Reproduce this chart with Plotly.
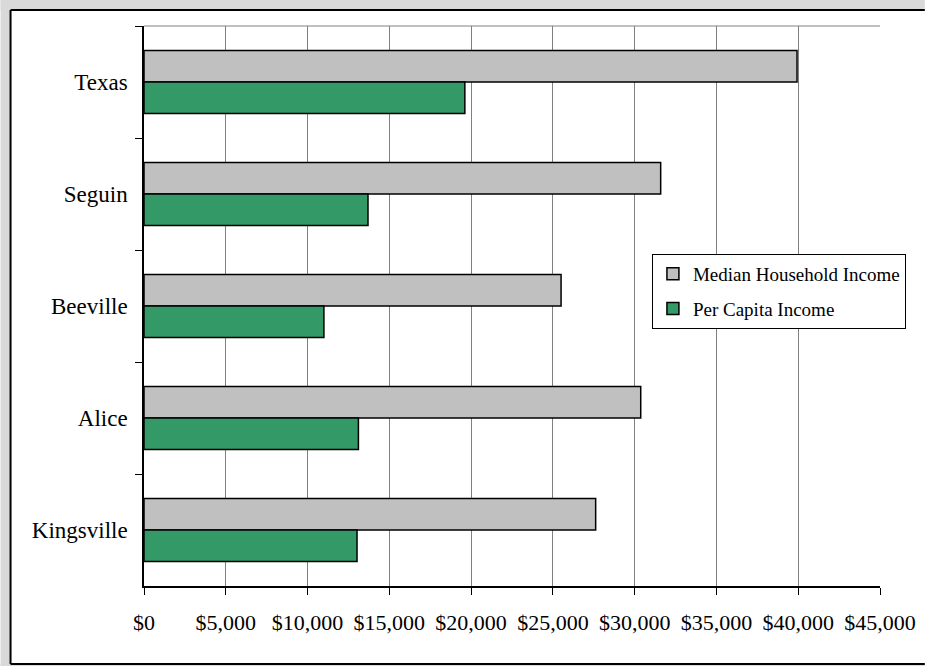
import plotly.graph_objects as go

categories = ["Texas", "Seguin", "Beeville", "Alice", "Kingsville"]
median_household_income = [39927, 31590, 25500, 30370, 27615]
per_capita_income = [19617, 13695, 11000, 13110, 13025]
series_names = ["Median Household Income", "Per Capita Income"]
tick_values = [0, 5000, 10000, 15000, 20000, 25000, 30000, 35000, 40000, 45000]
tick_labels = ["$0", "$5,000", "$10,000", "$15,000", "$20,000", "$25,000",
               "$30,000", "$35,000", "$40,000", "$45,000"]

FONT = "Liberation Serif"

fig = go.Figure()
fig.add_trace(go.Bar(
    y=categories, x=median_household_income, orientation="h",
    name=series_names[0], legendgroup="a",
    marker=dict(color="#C0C0C0", line=dict(color="#000000", width=1.5)),
))
fig.add_trace(go.Bar(
    y=categories, x=per_capita_income, orientation="h",
    name=series_names[1], legendgroup="b",
    marker=dict(color="#339966", line=dict(color="#000000", width=1.5)),
))

W, H = 928, 666
L, R, T, B = 144, 45, 26, 80
pw, ph = W - L - R, H - T - B

def px_x(px):
    return (px - L) / pw

def px_y(py):
    return (H - B - py) / ph

GRAY = "#d9d9d9"
frame = [
    # gray surround (left, top, bottom)
    dict(type="rect", xref="paper", yref="paper", layer="below",
         x0=px_x(0), x1=px_x(10), y0=px_y(H), y1=px_y(0),
         line=dict(width=0), fillcolor=GRAY),
    dict(type="rect", xref="paper", yref="paper", layer="below",
         x0=px_x(0), x1=px_x(W), y0=px_y(10), y1=px_y(0),
         line=dict(width=0), fillcolor=GRAY),
    dict(type="rect", xref="paper", yref="paper", layer="below",
         x0=px_x(0), x1=px_x(W), y0=px_y(H), y1=px_y(664),
         line=dict(width=0), fillcolor=GRAY),
    # black frame edges
    dict(type="line", xref="paper", yref="paper", layer="below",
         x0=px_x(10), x1=px_x(10), y0=px_y(664), y1=px_y(10),
         line=dict(color="#000000", width=2)),
    dict(type="line", xref="paper", yref="paper", layer="below",
         x0=px_x(10), x1=px_x(W), y0=px_y(10), y1=px_y(10),
         line=dict(color="#000000", width=2)),
    dict(type="line", xref="paper", yref="paper", layer="below",
         x0=px_x(10), x1=px_x(W), y0=px_y(664), y1=px_y(664),
         line=dict(color="#000000", width=2)),
    # gray plot-area top border
    dict(type="line", xref="paper", yref="paper", layer="below",
         x0=0, x1=1, y0=1, y1=1,
         line=dict(color="#808080", width=1)),
]

fig.update_layout(
    width=W, height=H, autosize=False,
    margin=dict(l=L, r=R, t=T, b=B, pad=0),
    paper_bgcolor="#ffffff",
    plot_bgcolor="rgba(0,0,0,0)",
    barmode="group",
    bargap=0.4375,
    bargroupgap=0,
    font=dict(family=FONT, color="#000000"),
    showlegend=True,
    legend=dict(
        x=px_x(654), y=px_y(254), xanchor="left", yanchor="top",
        bgcolor="#ffffff", bordercolor="#000000", borderwidth=1,
        font=dict(family=FONT, size=19, color="#000000"),
        traceorder="grouped", tracegroupgap=7,
        itemwidth=30,
    ),
    xaxis=dict(
        range=[0, 45000], tickvals=tick_values, ticktext=tick_labels,
        showgrid=True, gridcolor="#808080", gridwidth=1,
        zeroline=False,
        showline=True, linecolor="#000000", linewidth=1.5,
        ticks="outside", ticklen=7, tickcolor="#000000", tickwidth=1,
        tickfont=dict(family=FONT, size=22, color="#000000"),
        ticklabelstandoff=9,
        fixedrange=True,
    ),
    yaxis=dict(
        type="category", categoryorder="array", categoryarray=categories,
        autorange="reversed",
        showgrid=False, zeroline=False,
        showline=True, linecolor="#000000", linewidth=1.5,
        ticks="outside", tickson="boundaries", ticklen=7,
        tickcolor="#000000", tickwidth=1,
        tickfont=dict(family=FONT, size=23, color="#000000"),
        ticklabelstandoff=10,
        fixedrange=True,
    ),
    shapes=frame,
)

fig.write_html(
    "out.html",
    config={"displayModeBar": False},
    post_script=("document.body.style.margin='0';"
                 "document.body.style.padding='0';"
                 "document.body.style.overflow='hidden';"
                 "document.documentElement.style.overflow='hidden';"),
)
